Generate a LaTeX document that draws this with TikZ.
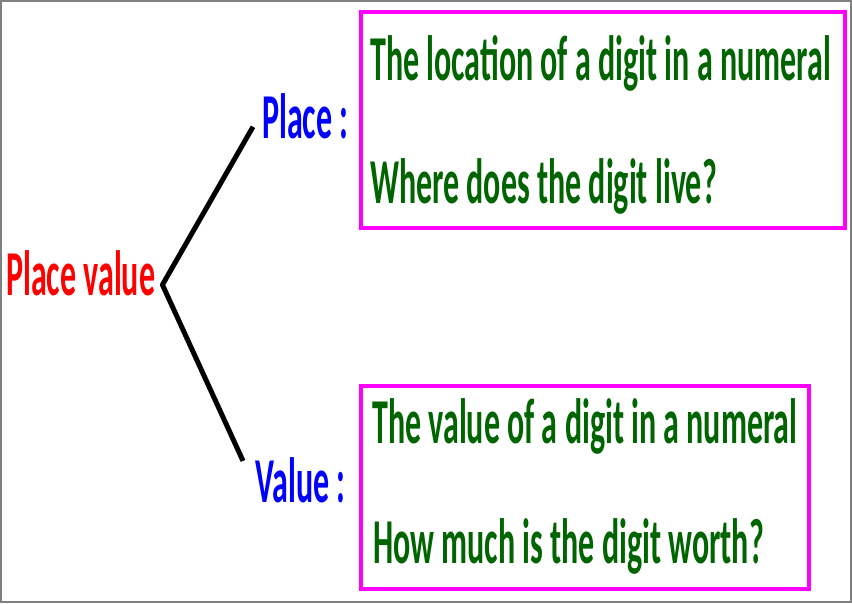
\documentclass[tikz,border=0pt]{standalone}
\usepackage{fontspec}
\newfontfamily\slimfont{Carlito}[FakeStretch=0.5]
\newcommand{\bigslim}{\slimfont\bfseries\fontsize{64}{70}\selectfont}
\definecolor{leafgreen}{RGB}{0,100,0}
\definecolor{boxpink}{RGB}{255,0,255}

\begin{document}
\begin{tikzpicture}[x=1pt,y=-1pt,
    term/.style ={font=\bigslim, inner sep=4pt, anchor=base west},
    meaning/.style ={font=\bigslim, text=leafgreen, inner sep=0pt, anchor=base west},
    infobox/.style ={draw=boxpink, line width=3.5pt, inner sep=0pt}]
   \useasboundingbox (0,0) rectangle (852,603);
   \draw[gray, line width=2pt] (1,1) rectangle (851,602);

   \node[term, text=red]  (pv)    at (2,295)   {Place value};
   \node[term, text=blue] (place) at (258,138) {Place :};
   \node[term, text=blue] (value) at (251,502) {Value :};

   \node[infobox, minimum width=484pt, minimum height=216pt] (placebox) at (603,120) {};
   \node[infobox, minimum width=448pt, minimum height=203pt] (valuebox) at (585,487.5) {};

   \node[meaning] (loc)   at (370,80)  {The location of a digit in a numeral};
   \node[meaning] (where) at (370,203) {Where does the digit live?};
   \node[meaning] (val)   at (372,443) {The value of a digit in a numeral};
   \node[meaning] (worth) at (373,563) {How much is the digit worth?};

   \draw[line width=5pt, line join=round] ([xshift=-5pt,yshift=-11pt]place.west)
      -- ([xshift=3pt,yshift=-12pt]pv.east)
      -- ([xshift=-8pt,yshift=-8pt]value.north west);
 \end{tikzpicture}
\end{document}
